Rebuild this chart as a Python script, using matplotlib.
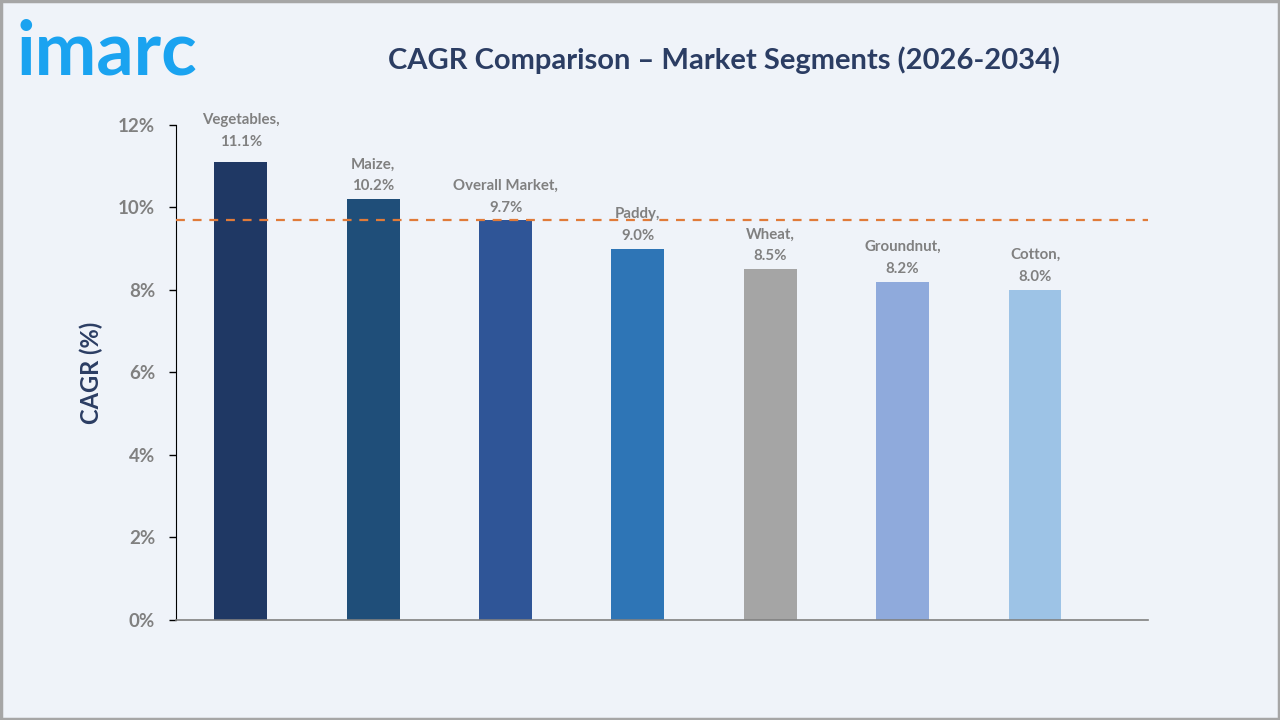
import numpy as np
from matplotlib import pyplot as plt
from matplotlib.patches import Rectangle
from matplotlib.ticker import FuncFormatter

plt.rcParams['font.family'] = ['Lato', 'DejaVu Sans']

# Data
segments = ['Vegetables', 'Maize', 'Overall Market', 'Paddy', 'Wheat', 'Groundnut', 'Cotton']
cagr = [11.1, 10.2, 9.7, 9.0, 8.5, 8.2, 8.0]
bar_colors = ['#1F3864', '#1F4E79', '#2F5597', '#2E75B6', '#A5A5A5', '#8FAADC', '#9DC3E6']
overall_cagr = 9.7
y_ticks = [0, 2, 4, 6, 8, 10, 12]

# label gap above each bar (in % units); the first one sits a bit higher
label_gap = [0.33, 0.15, 0.12, 0.15, 0.15, 0.15, 0.15]

bg = '#EFF3F9'
navy = '#2B3D63'
gray_txt = '#808080'

fig = plt.figure(figsize=(12.8, 7.2), dpi=100)
fig.patch.set_facecolor(bg)
# outer frame
fig.patches.append(Rectangle((0.001, 0.002), 0.998, 0.996, transform=fig.transFigure,
                             fill=False, edgecolor='#A6A6A6', linewidth=2.5))

ax = fig.add_axes([0.1375, 0.1389, 0.759, 0.6875])
ax.set_facecolor(bg)

x = np.arange(len(segments))
ax.bar(x, cagr, width=0.4, color=bar_colors, zorder=2)
ax.axhline(overall_cagr, color='#E07B39', ls=(0, (4, 3.5)), lw=1.6, zorder=3, clip_on=False)

for xi, name, val, gap in zip(x, segments, cagr, label_gap):
    ax.text(xi, val + gap, f'{name},\n{val:.1f}%', ha='center', va='bottom',
            fontsize=10.8, fontweight='bold', color=gray_txt, linespacing=1.7, zorder=4)

ax.set_xlim(-0.49, 6.85)
ax.set_ylim(0, 12)
ax.set_yticks(y_ticks)
ax.yaxis.set_major_formatter(FuncFormatter(lambda v, p: f'{v:.0f}%'))
ax.tick_params(axis='y', length=5, width=1, color='black', labelsize=13.5,
               labelcolor=gray_txt, pad=10)
for lab in ax.get_yticklabels():
    lab.set_fontweight('bold')
ax.set_xticks([])

for s in ['top', 'right']:
    ax.spines[s].set_visible(False)
ax.spines['left'].set_color('black')
ax.spines['bottom'].set_color('#808080')
ax.spines['bottom'].set_linewidth(1.2)

ax.set_ylabel('CAGR (%)', fontsize=17, fontweight='bold', color=navy, labelpad=11)

fig.text(0.566, 0.916, 'CAGR Comparison \u2013 Market Segments (2026-2034)',
         ha='center', va='center', fontsize=21, fontweight='bold', color=navy)
fig.text(0.013, 0.896, 'imarc', ha='left', va='baseline', fontsize=53,
         fontweight='bold', color='#1AA3F0')

plt.savefig('out.png', dpi=100, facecolor=bg)
